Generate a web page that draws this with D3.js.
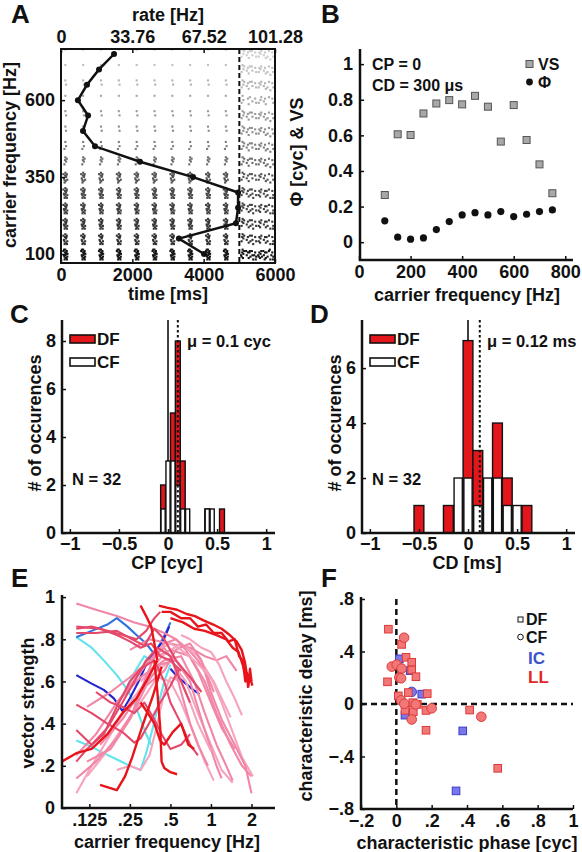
<!DOCTYPE html>
<html><head><meta charset="utf-8">
<script src="https://cdn.jsdelivr.net/npm/d3@7"></script>
<style>body{margin:0;background:#fff}</style></head><body>
<svg id="fig" width="582" height="852"></svg>
<script>
// ================= DATA =================
// Panel A
const rasterFreqs = [100,150,200,250,300,350,400,450,500,550,600,650,700,750];
const rateHz = [67.7,55.8,82.8,83.8,83.8,62.5,37.4,16.1,10.4,12.8,8.0,12.3,18.0,25.1];
const rateTicks = [0,33.76,67.52,101.28];
const timeTicks = [0,2000,4000,6000];
const freqTicksA = [100,350,600];
const stimEnd = 5000;
const burstTimes = [120,620,1120,1620,2120,2620,3120,3620,4120,4620];
const offTimes = [5090,5250,5410,5570,5730,5890];
const spikesPerBurst = [16,12,13,13,13,11,5,3,2,2,1,2,1,1];
const offsetSpikes = [7,5,5,5,5,4,4,4,4,4,3,4,4,4];
const rowShade = ["#161616","#303030","#383838","#404040","#484848","#545454","#6c6c6c","#808080","#8e8e8e","#9a9a9a","#a8a8a8","#b4b4b4","#c0c0c0","#cccccc"];
const jitter = [[0,0],[20,3],[-25,5],[40,1],[-10,2],[10,6],[-40,4],[55,5],[30,2],[-55,1],[-20,7],[45,7],[5,4],[-35,0],[60,3],[25,6]];

// Panel B
const bFreqs = [100,150,200,250,300,350,400,450,500,550,600,650,700,750];
const vsValues = [0.265,0.606,0.602,0.723,0.779,0.798,0.774,0.822,0.761,0.565,0.770,0.574,0.437,0.275];
const phiValues = [0.12,0.028,0.017,0.024,0.071,0.116,0.153,0.166,0.153,0.172,0.144,0.157,0.172,0.181];

// Panel C
const cpBins = [-0.05,0,0.05,0.1,0.15,0.2,0.4,0.45,0.55];
const cpDF = [2,0,5,8,3,0,1,0,1];
const cpCF = [1,3,3,2,1,1,1,1,0];
const cpWidth = 0.05, cpMean = 0.1;

// Panel D
const cdBins = [-0.5,-0.2,-0.1,0,0.1,0.2,0.3,0.4,0.5,0.6];
const cdDF = [1,1,0,7,3,1,4,2,0,1];
const cdCF = [0,0,2,2,1,2,2,1,1,0];
const cdWidth = 0.1, cdMean = 0.12;

// Panel E  (carrier frequency, vector strength)
const eKinds = ["cyan","cyan","cyan","blue","navy","navy",
 "pink","pink","lpink","pink","lpink","pink","pink","lpink","pink","lpink","pink","lpink","pink","lpink",
 "rose","rose","rose","rose","rose","rose","rose",
 "red","red","red","red","red","red","red","red"];
const eCurves = [
 [[0.1,0.81],[0.13,0.76],[0.16,0.7],[0.2,0.63],[0.24,0.56],[0.27,0.5],[0.3,0.42],[0.33,0.35],[0.36,0.3]],
 [[0.1,0.32],[0.13,0.29],[0.16,0.26],[0.2,0.23],[0.25,0.2],[0.3,0.18],[0.33,0.26],[0.37,0.38],[0.41,0.5],[0.45,0.6],[0.5,0.68]],
 [[0.24,0.58],[0.28,0.66],[0.32,0.72],[0.36,0.7]],
 [[0.1,0.81],[0.13,0.84],[0.17,0.87],[0.2,0.9],[0.24,0.86],[0.28,0.82],[0.33,0.78],[0.38,0.73],[0.42,0.78],[0.47,0.84],[0.5,0.88]],
 [[0.1,0.63],[0.13,0.59],[0.16,0.56],[0.19,0.52],[0.22,0.46],[0.25,0.52],[0.29,0.6],[0.33,0.68],[0.38,0.74],[0.44,0.79],[0.49,0.86]],
 [[0.5,0.66],[0.57,0.62],[0.65,0.59],[0.74,0.56],[0.82,0.54]],
 [[0.1,0.97],[0.14,0.94],[0.2,0.91],[0.27,0.88],[0.35,0.86],[0.45,0.83],[0.55,0.8],[0.66,0.76],[0.8,0.7],[0.95,0.62],[1.05,0.55]],
 [[0.12,0.48],[0.18,0.55],[0.25,0.62],[0.35,0.7],[0.5,0.75],[0.7,0.72],[0.9,0.6],[1.1,0.45],[1.4,0.3],[1.7,0.2],[2.0,0.15]],
 [[0.1,0.07],[0.13,0.2],[0.18,0.35],[0.25,0.5],[0.35,0.62],[0.5,0.7],[0.65,0.6],[0.8,0.45],[1.0,0.3],[1.2,0.18],[1.45,0.12]],
 [[0.25,0.75],[0.35,0.8],[0.5,0.78],[0.7,0.76],[0.9,0.72],[1.1,0.7],[1.3,0.72],[1.55,0.65]],
 [[0.3,0.6],[0.45,0.73],[0.6,0.78],[0.8,0.72],[1.0,0.62],[1.2,0.5],[1.45,0.36],[1.7,0.24],[2.05,0.15]],
 [[0.2,0.5],[0.3,0.62],[0.45,0.7],[0.6,0.72],[0.75,0.6],[0.9,0.45],[1.1,0.3],[1.3,0.2],[1.45,0.13]],
 [[0.15,0.3],[0.22,0.42],[0.3,0.55],[0.42,0.68],[0.55,0.7],[0.7,0.6],[0.85,0.42],[1.0,0.28],[1.1,0.2],[1.2,0.14]],
 [[0.12,0.15],[0.16,0.25],[0.22,0.38],[0.3,0.5],[0.4,0.62],[0.5,0.6],[0.6,0.5],[0.75,0.35],[0.9,0.22],[1.05,0.13]],
 [[0.12,0.22],[0.18,0.28],[0.25,0.42],[0.33,0.58],[0.45,0.65],[0.55,0.75],[0.7,0.78],[0.85,0.7],[1.0,0.55],[1.2,0.42],[1.5,0.3],[1.8,0.2],[2.0,0.07]],
 [[0.2,0.18],[0.25,0.2],[0.3,0.18],[0.35,0.25],[0.4,0.4],[0.45,0.55],[0.5,0.62],[0.6,0.6],[0.7,0.5],[0.8,0.4],[1.0,0.27]],
 [[0.1,0.25],[0.14,0.35],[0.2,0.5],[0.28,0.62],[0.35,0.7],[0.45,0.78],[0.55,0.8],[0.65,0.75],[0.8,0.65],[1.0,0.5],[1.2,0.38],[1.5,0.28]],
 [[0.4,0.75],[0.5,0.78],[0.6,0.75],[0.75,0.7],[0.9,0.65],[1.05,0.6],[1.2,0.52],[1.4,0.43]],
 [[0.1,0.14],[0.14,0.22],[0.2,0.33],[0.26,0.45],[0.32,0.6],[0.38,0.72],[0.45,0.76],[0.52,0.7],[0.6,0.55],[0.7,0.4],[0.8,0.3],[0.95,0.2]],
 [[0.6,0.82],[0.7,0.8],[0.85,0.76],[1.0,0.74],[1.15,0.68],[1.3,0.6],[1.5,0.52],[1.7,0.44]],
 [[0.1,0.86],[0.15,0.85],[0.2,0.82],[0.25,0.79],[0.3,0.76],[0.36,0.78],[0.42,0.72],[0.5,0.7],[0.6,0.65]],
 [[0.1,0.83],[0.14,0.83],[0.2,0.84],[0.26,0.8],[0.32,0.77],[0.38,0.85],[0.45,0.8],[0.55,0.7],[0.7,0.62],[0.85,0.55]],
 [[0.1,0.37],[0.13,0.3],[0.17,0.38],[0.22,0.5],[0.27,0.6],[0.33,0.7],[0.4,0.76],[0.5,0.72],[0.6,0.6],[0.7,0.5]],
 [[0.1,0.22],[0.12,0.28],[0.16,0.35],[0.2,0.48],[0.25,0.6],[0.3,0.66],[0.38,0.7],[0.45,0.6],[0.5,0.5],[0.6,0.4],[0.7,0.3],[0.8,0.25]],
 [[0.14,0.55],[0.18,0.5],[0.22,0.48],[0.27,0.45],[0.32,0.5],[0.38,0.42],[0.43,0.35],[0.5,0.28],[0.6,0.3],[0.7,0.35]],
 [[0.1,0.49],[0.13,0.45],[0.17,0.4],[0.22,0.36],[0.27,0.31],[0.3,0.33],[0.36,0.42],[0.42,0.5],[0.5,0.58],[0.58,0.66]],
 [[0.1,0.85],[0.13,0.86],[0.17,0.84],[0.22,0.82],[0.28,0.8],[0.33,0.84],[0.38,0.9],[0.42,0.93]],
 [[0.41,0.96],[0.47,0.95],[0.56,0.94],[0.66,0.92],[0.76,0.91],[0.88,0.89],[1.04,0.87],[1.2,0.85],[1.38,0.82],[1.55,0.79],[1.69,0.75],[1.79,0.69],[1.86,0.62],[1.89,0.57]],
 [[0.43,0.93],[0.5,0.93],[0.6,0.9],[0.7,0.9],[0.8,0.86],[0.92,0.87],[1.05,0.83],[1.2,0.83],[1.35,0.79],[1.5,0.8],[1.62,0.72],[1.72,0.7],[1.8,0.6],[1.85,0.64],[1.9,0.58],[1.95,0.66],[2.0,0.6]],
 [[0.5,0.9],[0.62,0.88],[0.75,0.85],[0.9,0.84],[1.1,0.82],[1.3,0.8],[1.45,0.76],[1.6,0.74],[1.72,0.68],[1.8,0.64],[1.88,0.6],[1.95,0.62],[2.03,0.58]],
 [[0.3,0.96],[0.33,0.91],[0.36,0.86],[0.38,0.78],[0.4,0.7]],
 [[0.078,0.22],[0.1,0.26],[0.13,0.28],[0.17,0.35],[0.22,0.45],[0.28,0.52],[0.33,0.6],[0.4,0.7]],
 [[0.15,0.11],[0.2,0.085],[0.23,0.15],[0.26,0.24],[0.31,0.39],[0.37,0.53],[0.43,0.67]],
 [[0.38,0.7],[0.4,0.55],[0.42,0.38],[0.43,0.22],[0.45,0.19],[0.5,0.17],[0.56,0.16]],
 [[0.3,0.5],[0.34,0.45],[0.38,0.4],[0.42,0.32],[0.45,0.3],[0.52,0.36],[0.6,0.4],[0.68,0.3],[0.75,0.28]]
];
const eXTicks = [0.125,0.25,0.5,1,2];
const eXLabels = [".125",".25",".5","1","2"];
const eYTicks = [0,0.2,0.4,0.6,0.8,1];
const eYLabels = ["0",".2",".4",".6",".8","1"];

// Panel F  [characteristic phase (cyc), characteristic delay (ms)]
const llDF = [[-0.045,0.57],[0.03,0.454],[0.055,0.356],[0.087,0.318],[0.087,0.259],[0.111,0.208],[-0.05,0.169],[0.011,0.062],[0.068,0.087],[0.093,0.01],[0.049,-0.048],[0.096,-0.059],[0.119,-0.003],[0.175,0.079],[0.168,-0.049],[0.168,-0.2],[0.415,-0.046],[0.574,-0.49]];
const llCF = [[0.044,0.505],[-0.026,0.285],[0.002,0.3],[0.03,0.27],[0.017,0.202],[0.027,0.196],[0.027,0.028],[0.045,0.002],[0.087,-0.118],[0.11,-0.003],[0.2,-0.033],[0.481,-0.097]];
const icDF = [[0.017,0.344],[0.078,0.254],[0.144,0.075],[0.049,-0.085],[0.376,-0.205],[0.338,-0.662]];
const icCF = [[0.087,0.092]];
const fXTicks = [-0.2,0,0.2,0.4,0.6,0.8,1];
const fXLabels = ["\u2212.2","0",".2",".4",".6",".8","1"];
const fYTicks = [-0.8,-0.4,0,0.4,0.8];
const fYLabels = ["\u2212.8","\u2212.4","0",".4",".8"];

// ================= DRAWING =================
const FONT = "'Liberation Sans', Arial, Helvetica, sans-serif";
const INK = "#111";
const svg = d3.select("#fig");
svg.append("rect").attr("width",582).attr("height",852).attr("fill","#fff");

function text(x,y,s,o={}){
  return svg.append("text").attr("x",x).attr("y",y).text(s)
    .attr("font-family",FONT).attr("font-weight","bold")
    .attr("font-size",o.fs||18).attr("text-anchor",o.anchor||"start")
    .attr("fill",o.fill||INK);
}
function vtext(x,y,s,fs=18){
  return svg.append("text").attr("transform",`translate(${x},${y}) rotate(-90)`).text(s)
    .attr("font-family",FONT).attr("font-weight","bold").attr("font-size",fs)
    .attr("text-anchor","middle").attr("fill",INK);
}
function seg(x1,y1,x2,y2,w=2.5,dash=null,col=INK){
  const l = svg.append("line").attr("x1",x1).attr("y1",y1).attr("x2",x2).attr("y2",y2)
    .attr("stroke",col).attr("stroke-width",w);
  if(dash) l.attr("stroke-dasharray",dash);
  return l;
}
function axis(gen,tx,ty){
  const g = svg.append("g").attr("transform",`translate(${tx},${ty})`).call(gen);
  g.attr("font-family",FONT).attr("font-size",18);
  g.selectAll("text").attr("font-weight","bold").attr("fill",INK);
  g.selectAll(".tick line").attr("stroke",INK).attr("stroke-width",1.5);
  g.select(".domain").remove();
  return g;
}

// ---------- Panel A ----------
{
  const xT = d3.scaleLinear([0,6000],[61,275]);
  const xR = d3.scaleLinear([0,101.28],[61,275]);
  const yA = d3.scaleLinear([100,750],[254,54]);
  svg.append("clipPath").attr("id","clipA").append("rect").attr("x",61).attr("y",49).attr("width",214).attr("height",214);
  const rg = svg.append("g").attr("clip-path","url(#clipA)");
  rasterFreqs.forEach((f,i)=>{
    const pts = [];
    burstTimes.forEach(t=>jitter.slice(0,spikesPerBurst[i]).forEach(([dt,tr])=>pts.push([t+dt,tr])));
    offTimes.forEach((t,k)=>jitter.slice((k*3)%8,(k*3)%8+offsetSpikes[i]).forEach(([dt,tr])=>pts.push([t+dt*1.1,tr])));
    rg.append("g").selectAll("rect").data(pts).join("rect")
      .attr("x",d=>xT(d[0])-1).attr("y",d=>yA(f)-5.4+d[1]*1.4)
      .attr("width",2.1).attr("height",2.1).attr("fill",rowShade[i]);
  });
  seg(xT(stimEnd),49,xT(stimEnd),263,2,"5,3");
  const line = d3.line().x(d=>xR(d[0])).y(d=>yA(d[1]));
  const pts = rasterFreqs.map((f,i)=>[rateHz[i],f]);
  svg.append("path").attr("d",line(pts)).attr("fill","none").attr("stroke",INK).attr("stroke-width",2.5);
  svg.append("g").selectAll("circle").data(pts).join("circle")
    .attr("cx",d=>xR(d[0])).attr("cy",d=>yA(d[1])).attr("r",3).attr("fill",INK);
  svg.append("rect").attr("x",61).attr("y",49).attr("width",214).attr("height",214)
    .attr("fill","none").attr("stroke",INK).attr("stroke-width",2);
  axis(d3.axisBottom(xT).tickValues(timeTicks).tickFormat(d3.format("d")).tickSizeInner(-4).tickSizeOuter(0).tickPadding(5),0,263);
  axis(d3.axisTop(xR).tickValues(rateTicks).tickFormat(d=>d===0?"0":d.toFixed(2)).tickSizeInner(-4).tickSizeOuter(0).tickPadding(6),0,49);
  axis(d3.axisLeft(yA).tickValues(freqTicksA).tickSizeInner(-4).tickSizeOuter(0).tickPadding(6),61,0);
  text(168,21,"rate [Hz]",{anchor:"middle"});
  text(168,300,"time [ms]",{anchor:"middle"});
  vtext(16,155,"carrier frequency [Hz]");
  text(11,23,"A",{fs:26});
}

// ---------- Panel B ----------
{
  const xB = d3.scaleLinear([0,830],[359,573]);
  const yB = d3.scaleLinear([-0.1,1.085],[260,49]);
  seg(360,49,360,261); seg(359,260,573,260);
  axis(d3.axisBottom(xB).tickValues([0,200,400,600,800]).tickSizeInner(-4).tickSizeOuter(0).tickPadding(5),0,260);
  axis(d3.axisLeft(yB).tickValues([0,0.2,0.4,0.6,0.8,1]).tickFormat(d=>d===0?"0":d===1?"1":d.toFixed(1)).tickSizeInner(-4).tickSizeOuter(0).tickPadding(7),360,0);
  svg.append("g").selectAll("rect").data(bFreqs.map((f,i)=>[f,vsValues[i]])).join("rect")
    .attr("x",d=>xB(d[0])-3.5).attr("y",d=>yB(d[1])-3.5).attr("width",7).attr("height",7)
    .attr("fill","#a8a8a8").attr("stroke","#555").attr("stroke-width",1);
  svg.append("g").selectAll("circle").data(bFreqs.map((f,i)=>[f,phiValues[i]])).join("circle")
    .attr("cx",d=>xB(d[0])).attr("cy",d=>yB(d[1])).attr("r",3.6).attr("fill",INK);
  text(372,70,"CP = 0",{fs:16});
  text(372,91,"CD = 300 \u03bcs",{fs:16});
  svg.append("rect").attr("x",526).attr("y",60.5).attr("width",7).attr("height",7).attr("fill","#a8a8a8").attr("stroke","#555");
  text(538,70,"VS",{fs:16});
  svg.append("circle").attr("cx",529.5).attr("cy",82).attr("r",3.4).attr("fill",INK);
  text(538,88,"\u03a6",{fs:16});
  text(467,301,"carrier frequency [Hz]",{anchor:"middle"});
  vtext(303,152,"\u03a6 [cyc] & VS");
  text(321,23,"B",{fs:26});
}

// ---------- Panels C & D ----------
function histPanel(ox,bins,df,cf,w,mean,yMax,yTicks,meanLabel,xlab,letter){
  const x = d3.scaleLinear([-1.08,1.09],[ox+62,ox+275]);
  const y = d3.scaleLinear([0,yMax],[533,320]);
  seg(x(0),320,x(0),533,1.6);
  const bw = x(w)-x(0);
  svg.append("g").selectAll("rect").data(bins.map((b,i)=>[b,df[i]]).filter(d=>d[1]>0)).join("rect")
    .attr("x",d=>x(d[0])-bw/2).attr("y",d=>y(d[1])).attr("width",bw).attr("height",d=>533-y(d[1]))
    .attr("fill","#e3161c").attr("stroke",INK).attr("stroke-width",1.4);
  svg.append("g").selectAll("rect").data(bins.map((b,i)=>[b,cf[i]]).filter(d=>d[1]>0)).join("rect")
    .attr("x",d=>x(d[0])-bw*0.42).attr("y",d=>y(d[1])).attr("width",bw*0.84).attr("height",d=>533-y(d[1]))
    .attr("fill","#fff").attr("stroke",INK).attr("stroke-width",1.4);
  seg(x(mean),320,x(mean),533,2,"2.5,2.5");
  seg(ox+62,320,ox+62,534); seg(ox+61,533,ox+275,533);
  axis(d3.axisBottom(x).tickValues([-1,-0.5,0,0.5,1]).tickFormat(d3.format("")).tickSizeInner(-4).tickSizeOuter(0).tickPadding(4),0,533);
  axis(d3.axisLeft(y).tickValues(yTicks).tickSizeInner(-4).tickSizeOuter(0).tickPadding(6),ox+62,0);
  svg.append("rect").attr("x",ox+70).attr("y",335).attr("width",25).attr("height",8).attr("fill","#e3161c").attr("stroke",INK).attr("stroke-width",1.6);
  text(ox+97,345,"DF",{fs:17});
  svg.append("rect").attr("x",ox+70).attr("y",358).attr("width",25).attr("height",8).attr("fill","#fff").attr("stroke",INK).attr("stroke-width",1.6);
  text(ox+97,368,"CF",{fs:17});
  text(ox+187,347,meanLabel,{fs:16.5});
  text(ox+72,485,"N = 32",{fs:16.5});
  text(ox+167,569,xlab,{anchor:"middle"});
  vtext(ox+41,423,"# of occurences");
  text(ox+10,323,letter,{fs:26});
}
histPanel(0,cpBins,cpDF,cpCF,cpWidth,cpMean,8.875,[0,2,4,6,8],"\u03bc = 0.1 cyc","CP [cyc]","C");
histPanel(300,cdBins,cdDF,cdCF,cdWidth,cdMean,7.75,[0,2,4,6],"\u03bc = 0.12 ms","CD [ms]","D");

// ---------- Panel E ----------
{
  const xE = d3.scaleLog().base(2).domain([0.0783,2.99]).range([62,275]);
  const yE = d3.scaleLinear([0,1.01],[808,595]);
  const col = {cyan:"#62e4ee",blue:"#2f72e2",navy:"#2224cc",pink:"#f286a6",lpink:"#f6a4bd",rose:"#e4486a",red:"#e8141c"};
  svg.append("clipPath").attr("id","clipE").append("rect").attr("x",62).attr("y",590).attr("width",213).attr("height",218);
  const g = svg.append("g").attr("clip-path","url(#clipE)");
  const line = d3.line().x(d=>xE(d[0])).y(d=>yE(d[1]));
  g.selectAll("path").data(eCurves.map((c,i)=>({c,k:eKinds[i]}))).join("path")
    .attr("d",d=>line(d.c)).attr("fill","none").attr("stroke",d=>col[d.k])
    .attr("stroke-width",d=>d.k==="red"?2.4:2.1).attr("stroke-linejoin","round");
  seg(62,595,62,809); seg(61,808,275,808);
  axis(d3.axisBottom(xE).tickValues(eXTicks).tickFormat((d,i)=>eXLabels[i]).tickSizeInner(-4).tickSizeOuter(0).tickPadding(5),0,808);
  axis(d3.axisLeft(yE).tickValues(eYTicks).tickFormat((d,i)=>eYLabels[i]).tickSizeInner(-4).tickSizeOuter(0).tickPadding(7),62,0);
  text(167,848,"carrier frequency [Hz]",{anchor:"middle"});
  vtext(34,703,"vector strength");
  text(11,587,"E",{fs:26});
}

// ---------- Panel F ----------
{
  const xF = d3.scaleLinear([-0.2,1],[361,573]);
  const yF = d3.scaleLinear([-0.8,0.8],[809,599]);
  seg(xF(0),599,xF(0),809,2.5,"6,4");
  seg(361,yF(0),573,yF(0),2.5,"6,4");
  const sq = (data,fill,stroke)=>svg.append("g").selectAll("rect").data(data).join("rect")
    .attr("x",d=>xF(d[0])-3.8).attr("y",d=>yF(d[1])-3.8).attr("width",7.6).attr("height",7.6)
    .attr("fill",fill).attr("stroke",stroke).attr("stroke-width",1);
  const ci = (data,fill,stroke)=>svg.append("g").selectAll("circle").data(data).join("circle")
    .attr("cx",d=>xF(d[0])).attr("cy",d=>yF(d[1])).attr("r",4.8)
    .attr("fill",fill).attr("stroke",stroke).attr("stroke-width",1);
  sq(icDF,"#7878ee","#3a3ac4");
  ci(icCF,"#7878ee","#3a3ac4");
  sq(llDF,"#f27878","#dc3a3a");
  ci(llCF,"#f27878","#dc3a3a");
  seg(361,597,361,810); seg(360,809,573,809);
  axis(d3.axisBottom(xF).tickValues(fXTicks).tickFormat((d,i)=>fXLabels[i]).tickSizeInner(-4).tickSizeOuter(0).tickPadding(5),0,809);
  axis(d3.axisLeft(yF).tickValues(fYTicks).tickFormat((d,i)=>fYLabels[i]).tickSizeInner(-4).tickSizeOuter(0).tickPadding(7),361,0);
  svg.append("rect").attr("x",518).attr("y",617).attr("width",5).attr("height",5).attr("fill","none").attr("stroke",INK).attr("stroke-width",1);
  text(526,625,"DF",{fs:16});
  svg.append("circle").attr("cx",520.5).attr("cy",637).attr("r",2.8).attr("fill","none").attr("stroke",INK).attr("stroke-width",1);
  text(526,643,"CF",{fs:16});
  text(528,664,"IC",{fs:17,fill:"#3a55c8"});
  text(528,683,"LL",{fs:17,fill:"#e02626"});
  text(467,849,"characteristic phase [cyc]",{anchor:"middle"});
  vtext(312,696,"characteristic delay [ms]");
  text(321,587,"F",{fs:26});
}
</script></body></html>
